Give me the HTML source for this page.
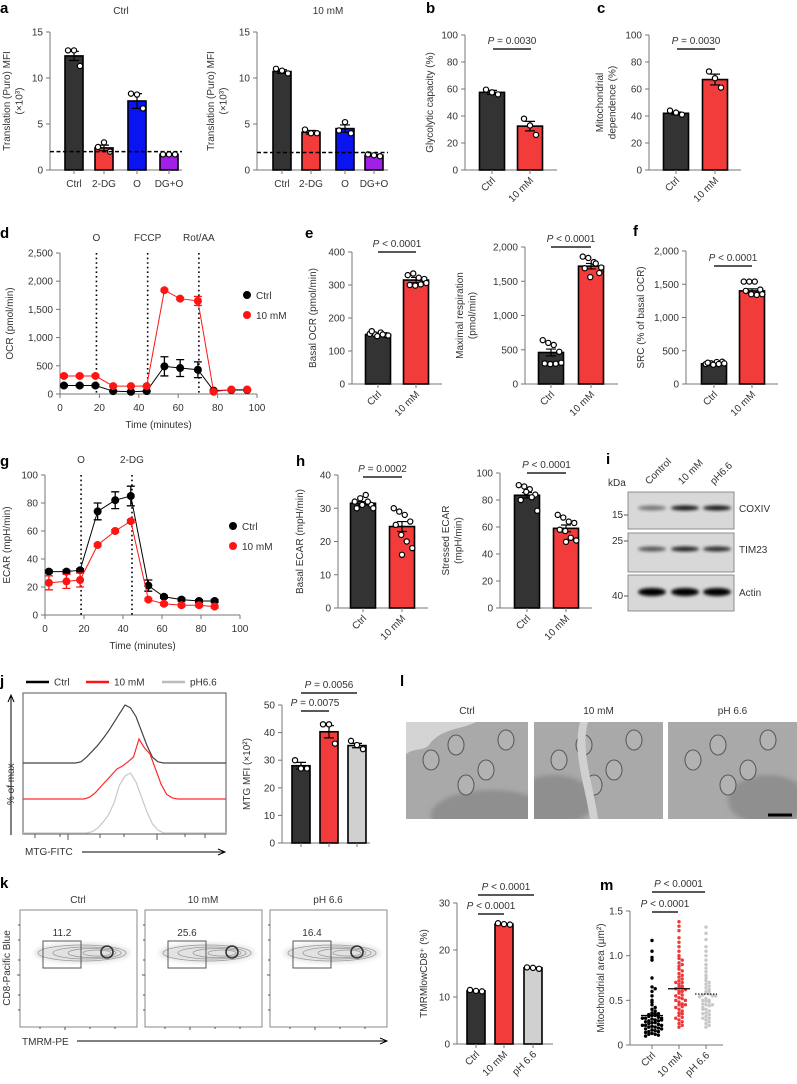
<!DOCTYPE html>
<html><head><meta charset="utf-8">
<style>
html,body{margin:0;padding:0;background:#fff;}
svg{display:block;font-family:"Liberation Sans",sans-serif;}
text{fill:#333;font-size:10px;}
.pl{font-weight:bold;font-size:15px;fill:#000;}
</style></head>
<body>
<svg id="fig" width="797" height="1084" viewBox="0 0 797 1084" xmlns="http://www.w3.org/2000/svg">
<defs>
<filter id="blur1" x="-20%" y="-50%" width="140%" height="200%"><feGaussianBlur stdDeviation="1.6"/></filter>
<filter id="blur2"><feGaussianBlur stdDeviation="2.5"/></filter>
<clipPath id="clip0"><rect x="406" y="722" width="122" height="97"/></clipPath>
<clipPath id="clip1"><rect x="534" y="722" width="129" height="97"/></clipPath>
<clipPath id="clip2"><rect x="668" y="722" width="129" height="97"/></clipPath>
</defs>
<text class="pl" x="0" y="13">a</text>
<text class="pl" x="426" y="13">b</text>
<text class="pl" x="597" y="13">c</text>
<text class="pl" x="0" y="238">d</text>
<text class="pl" x="305" y="238">e</text>
<text class="pl" x="633" y="236">f</text>
<text class="pl" x="0" y="466">g</text>
<text class="pl" x="296" y="466">h</text>
<text class="pl" x="606" y="464">i</text>
<text class="pl" x="0" y="686">j</text>
<text class="pl" x="400" y="686">l</text>
<text class="pl" x="0" y="888">k</text>
<text class="pl" x="600" y="890">m</text>
</svg>
<script>
// ---------- data ----------
const aCats = ['Ctrl','2-DG','O','DG+O'];
const a1Vals = [12.4, 2.4, 7.5, 1.7];
const a1Errs = [0.5, 0.3, 0.8, 0.1];
const a1Pts = [[13,13,11.3],[2.5,3,2],[8.3,8.2,6.7],[1.7,1.7,1.7]];
const a2Vals = [10.7, 4.1, 4.5, 1.6];
const a2Errs = [0.2, 0.2, 0.4, 0.1];
const a2Pts = [[11,10.8,10.5],[4.4,4,4],[4.3,5.2,4],[1.7,1.6,1.5]];
const aTicks = [0,5,10,15];
const aColors = ['#333333','#f23c3c','#0a14f0','#a020e8'];
const twoCats = ['Ctrl','10 mM'];
const threeCats = ['Ctrl','10 mM','pH 6.6'];
const bVals = [57.5, 32.5]; const bErrs=[1.5,3.5]; const bPts=[[59.5,57.5,56],[38,33,26]];
const cVals = [42, 67]; const cErrs=[1,4]; const cPts=[[44,42.5,41],[73,68,61]];
const pctTicks=[0,20,40,60,80,100];
const dTimes=[2,10,18,27,36,44,53,61,70,78,87,95];
const dCtrl=[150,150,150,50,40,50,490,460,430,60,70,70];
const dCtrlErr=[20,20,20,10,10,10,170,150,140,10,10,10];
const d10=[320,320,320,140,140,140,1840,1690,1650,40,80,80];
const d10Err=[20,20,20,10,10,10,20,20,80,10,10,10];
const dTicks=[0,500,1000,1500,2000,2500];
const eBVals=[150,315]; const eBErrs=[4,8];
const eBPts=[[152,150,156,148,160,145,150,147],[330,335,322,318,300,298,302,306]];
const eMVals=[460,1720]; const eMErrs=[50,40];
const eMPts=[[640,600,570,470,300,290,295,310],[1860,1840,1780,1620,1690,1560,1760,1700]];
const fVals=[305,1400]; const fErrs=[10,30];
const fPts=[[300,310,330,335,320,290,300,310],[1540,1540,1540,1420,1400,1350,1340,1350]];
const gTimes=[2,11,18,27,36,44,53,61,70,79,87];
const gCtrl=[31,31,32,74,82,85,21,13,11,10,10];
const gCtrlErr=[1,1,1,6,6,7,4,1,1,1,1];
const g10=[23,24,25,50,60,67,11,8,7,7,6];
const g10Err=[5,5,5,1,1,1,1,1,1,1,1];
const gTicks=[0,20,40,60,80,100];
const hBVals=[31.5,24.5]; const hBErrs=[0.5,1.5];
const hBPts=[[32,33,34,31,30,31,32,30],[30,29,28,26,25,22,20,18,16]];
const hSVals=[83.5,59]; const hSErrs=[2,2.5];
const hSPts=[[91,90,88,84,80,86,82,72],[69,67,64,63,58,57,52,50,49]];
const jVals=[28,40.3,35.3]; const jErrs=[1.2,2.2,0.8]; const jPts=[[30,27,27],[43,43,36],[37,35.5,34]];
const jTicks=[0,10,20,30,40,50];
const histCtrl=[0,0,0.02,0.1,0.2,0.3,0.42,0.55,0.7,0.85,1.0,0.95,0.8,0.55,0.3,0.1,0.02,0,0,0,0];
const hist10=[0,0,0,0.03,0.1,0.2,0.3,0.4,0.5,0.55,0.62,0.7,1.0,0.85,0.75,0.5,0.25,0.08,0.02,0,0];
const histPH=[0,0,0,0,0.02,0.08,0.18,0.3,0.5,0.8,0.95,1.0,0.85,0.6,0.35,0.15,0.05,0,0,0,0];
const kGates=['11.2','25.6','16.4'];
const kVals=[11.3,25.5,16.2]; const kErrs=[0.1,0.1,0.1]; const kPts=[[11.5,11.3,11.2],[25.7,25.5,25.4],[16.3,16.2,16]];
const kTicks=[0,10,20,30];
const mCtrl=[1.17,1.05,0.98,0.95,0.75,0.65,0.63,0.6,0.55,0.5,0.48,0.45,0.42,0.4,0.38,0.36,0.35,0.34,0.33,0.33,0.32,0.31,0.3,0.3,0.29,0.28,0.27,0.27,0.26,0.25,0.25,0.24,0.23,0.22,0.22,0.21,0.2,0.2,0.19,0.18,0.18,0.17,0.16,0.15,0.15,0.14,0.13,0.12,0.12,0.11,0.1,0.35,0.28,0.22,0.3];
const m10=[1.38,1.33,1.28,1.2,1.15,1.1,1.05,1.0,0.97,0.95,0.92,0.9,0.88,0.85,0.83,0.8,0.78,0.76,0.74,0.72,0.7,0.68,0.66,0.65,0.64,0.63,0.62,0.6,0.58,0.56,0.55,0.53,0.52,0.5,0.48,0.46,0.45,0.43,0.42,0.4,0.38,0.36,0.35,0.33,0.31,0.3,0.28,0.26,0.24,0.22,0.2,0.7,0.6,0.5,0.45];
const mPH=[1.32,1.25,1.18,1.1,1.05,1.0,0.95,0.9,0.86,0.82,0.78,0.75,0.72,0.7,0.68,0.66,0.64,0.62,0.6,0.58,0.57,0.56,0.55,0.54,0.52,0.5,0.49,0.48,0.46,0.45,0.44,0.42,0.4,0.38,0.36,0.34,0.32,0.3,0.28,0.26,0.24,0.22,0.2,0.55,0.5,0.45,0.6,0.4,0.35,0.3];
const mMedians=[0.33,0.63,0.57];
const mTicks=[0,0.5,1.0,1.5];
const mTickLabels=['0','0.5','1.0','1.5'];

// ---------- helpers ----------
const NS='http://www.w3.org/2000/svg';
const fig=document.getElementById('fig');
function mk(tag,attrs,parent){const e=document.createElementNS(NS,tag);for(const k in attrs)e.setAttribute(k,attrs[k]);(parent||fig).appendChild(e);return e;}
function txt(s,x,y,attrs,parent){const t=mk('text',Object.assign({x:x,y:y},attrs||{}),parent);t.textContent=s;return t;}
function fmt(v){return v>=1000? Math.floor(v/1000)+','+String(v%1000).padStart(3,'0') : String(v);}

function yLabel(lines,x,cy,parent){
  lines.forEach((s,i)=>{
    const t=txt(s,x+i*12.5,cy,{transform:`rotate(-90 ${x+i*12.5} ${cy})`,'text-anchor':'middle','font-size':'10.5'},parent);
    
    
  });
}
function pBar(label,x1,x2,y,parent){
  const l=mk('line',{x1:x1,x2:x2,y1:y,y2:y,stroke:'#222','stroke-width':1.5},parent);
  
  
  const t=txt('',(x1+x2)/2,y-5,{'text-anchor':'middle','font-size':'9.5'},parent);
  
  
  const i=mk('tspan',{'font-style':'italic'},t); i.textContent='P';
  const r=mk('tspan',{},t); r.textContent=label;
}

function barChart(o){
  const g=mk('g',{});
  
  
  const ys=v=>o.y0-(v/o.max)*(o.y0-o.yTop);
  const ax=mk('line',{x1:o.ax,x2:o.ax,y1:o.y0,y2:o.yTop,stroke:'#777','stroke-width':1},g);
  
  
  const xa=mk('line',{x1:o.ax,x2:o.xEnd,y1:o.y0,y2:o.y0,stroke:'#777','stroke-width':1},g);
  
  
  o.ticks.forEach((v,i)=>{
    const tk=mk('line',{x1:o.ax-4,x2:o.ax,y1:ys(v),y2:ys(v),stroke:'#777'},g);
    
    
    const tl=txt(o.tickLabels?o.tickLabels[i]:fmt(v),o.ax-7,ys(v)+3.5,{'text-anchor':'end'},g);
    
    
  });
  o.cats.forEach((c,i)=>{
    const cx=o.centers[i];
    const top=ys(o.vals[i]);
    const b=mk('rect',{x:cx-o.w/2,y:top,width:o.w,height:o.y0-top,fill:o.colors[i],stroke:'#000','stroke-width':1.6},g);
    
    
    const e1=ys(o.vals[i]+o.errs[i]), e2=ys(o.vals[i]-o.errs[i]);
    const eb=mk('path',{d:`M${cx} ${e1}V${e2}M${cx-5} ${e1}H${cx+5}M${cx-5} ${e2}H${cx+5}`,stroke:'#000','stroke-width':1.2,fill:'none'},g);
    
    
    const tk=mk('line',{x1:cx,x2:cx,y1:o.y0,y2:o.y0+4,stroke:'#777'},g);
    
    
    const pts=o.pts[i]; const n=pts.length;
    pts.forEach((v,k)=>{
      let off = n<=3 ? (k-1)*6 : ((k%4)-1.5)*5.5 + (k>=4?2:0);
      if(n>4 && k>=8) off=0;
      const p=mk('circle',{cx:cx+off,cy:ys(v),r:2.6,fill:'#fff',stroke:'#000','stroke-width':1.2},g);
      
      
    });
    if(o.noLabels) return;
    let lab;
    if(o.rot){
      lab=txt(c,cx+4,o.y0+11,{'text-anchor':'end',transform:`rotate(-45 ${cx+4} ${o.y0+11})`,'font-size':'10.5'},g);
    } else {
      lab=txt(c,cx,o.y0+17,{'text-anchor':'middle','font-size':'10.5'},g);
    }
    
    
  });
  if(o.ylab) yLabel(o.ylab,o.ylx,(o.y0+o.yTop)/2,g);
  return {g:g,ys:ys};
}

// ---------- panel a ----------
const aL=barChart({name:'panel-a-ctrl-chart',ax:50,y0:170,yTop:32,max:15,ticks:aTicks,cats:aCats,centers:[74,104,137,169],w:18,vals:a1Vals,errs:a1Errs,pts:a1Pts,colors:aColors,xEnd:182,ylab:['Translation (Puro) MFI','(×10³)'],ylx:10});
const dl1=mk('line',{x1:50,x2:182,y1:aL.ys(2),y2:aL.ys(2),stroke:'#000','stroke-width':1.5,'stroke-dasharray':'4,2.5'});


const aR=barChart({name:'panel-a-10mm-chart',ax:257,y0:170,yTop:32,max:15,ticks:aTicks,cats:aCats,centers:[282,311,345,374],w:18,vals:a2Vals,errs:a2Errs,pts:a2Pts,colors:aColors,xEnd:388,ylab:['Translation (Puro) MFI','(×10³)'],ylx:214});
const dl2=mk('line',{x1:257,x2:388,y1:aR.ys(1.9),y2:aR.ys(1.9),stroke:'#000','stroke-width':1.5,'stroke-dasharray':'4,2.5'});


let t;
t=txt('Ctrl',121,14,{'text-anchor':'middle','font-size':'11'});  
t=txt('10 mM',328,14,{'text-anchor':'middle','font-size':'11'});  

// ---------- b, c ----------
barChart({name:'panel-b-chart',ax:465,y0:170,yTop:35,max:100,ticks:pctTicks,cats:twoCats,centers:[492,530],w:25,vals:bVals,errs:bErrs,pts:bPts,colors:['#333333','#f23c3c'],xEnd:557,rot:true,ylab:['Glycolytic capacity (%)'],ylx:433});
pBar(' = 0.0030',493,531,49);
barChart({name:'panel-c-chart',ax:649,y0:170,yTop:35,max:100,ticks:pctTicks,cats:twoCats,centers:[676,715],w:25,vals:cVals,errs:cErrs,pts:cPts,colors:['#333333','#f23c3c'],xEnd:741,rot:true,ylab:['Mitochondrial','dependence (%)'],ylx:603});
pBar(' = 0.0030',677,715,49);

// ---------- line chart helper ----------
function lineChart(o){
  const g=mk('g',{});
  
  
  const xs=v=>o.x0+(v/100)*(o.x1-o.x0);
  const ys=v=>o.y0-(v/o.max)*(o.y0-o.yTop);
  let a=mk('line',{x1:o.x0,x2:o.x0,y1:o.y0,y2:o.yTop,stroke:'#777'},g);
  
  
  a=mk('line',{x1:o.x0,x2:o.x1,y1:o.y0,y2:o.y0,stroke:'#777'},g);
  
  
  o.yticks.forEach(v=>{
    const tk=mk('line',{x1:o.x0-4,x2:o.x0,y1:ys(v),y2:ys(v),stroke:'#777'},g);
    
    
    const tl=txt(fmt(v),o.x0-7,ys(v)+3.5,{'text-anchor':'end','font-size':'10.5'},g);
    
    
  });
  [0,20,40,60,80,100].forEach(v=>{
    const tk=mk('line',{x1:xs(v),x2:xs(v),y1:o.y0,y2:o.y0+4,stroke:'#777'},g);
    
    
    const tl=txt(String(v),xs(v),o.y0+17,{'text-anchor':'middle','font-size':'10.5'},g);
    
    
  });
  const xt=txt('Time (minutes)',(o.x0+o.x1)/2,o.y0+34,{'text-anchor':'middle','font-size':'11'},g);
  
  
  o.inj.forEach((tv,i)=>{
    const l=mk('line',{x1:xs(tv),x2:xs(tv),y1:o.yTop,y2:o.y0,stroke:'#000','stroke-width':1.6,'stroke-dasharray':'1.6,3'},g);
    
    
    const lt=txt(o.injLabels[i],xs(tv),o.yTop-12,{'text-anchor':'middle','font-size':'11'},g);
    
    
  });
  o.series.forEach(s=>{
    const d=o.times.map((tv,i)=>(i?'L':'M')+xs(tv)+' '+ys(s.vals[i])).join('');
    const p=mk('path',{d:d,fill:'none',stroke:s.color,'stroke-width':1},g);
    
    
    o.times.forEach((tv,i)=>{
      const x=xs(tv),e1=ys(s.vals[i]+s.errs[i]),e2=ys(s.vals[i]-s.errs[i]);
      const eb=mk('path',{d:`M${x} ${e1}V${e2}M${x-4} ${e1}H${x+4}M${x-4} ${e2}H${x+4}`,stroke:s.color,'stroke-width':1.3,fill:'none'},g);
      
      
      const c=mk('circle',{cx:x,cy:ys(s.vals[i]),r:4,fill:s.color},g);
      
      
    });
  });
  o.series.forEach((s,i)=>{
    const ly=o.legY+i*20;
    const c=mk('circle',{cx:o.legX,cy:ly,r:4,fill:s.color},g);
    
    
    const lt=txt(s.label,o.legX+9,ly+4,{'font-size':'11'},g);
    
    
  });
  yLabel([o.ylab],o.ylx,(o.y0+o.yTop)/2,g);
}
lineChart({name:'panel-d-ocr-chart',x0:60,x1:257,y0:394,yTop:253,max:2500,yticks:dTicks,times:dTimes,inj:[18.5,44.5,70.5],injLabels:['O','FCCP','Rot/AA'],
  series:[{key:'ctrl',label:'Ctrl',color:'#000',vals:dCtrl,errs:dCtrlErr},{key:'10mm',label:'10 mM',color:'#ff1414',vals:d10,errs:d10Err}],
  legX:247,legY:295,ylab:'OCR (pmol/min)',ylx:13});
lineChart({name:'panel-g-ecar-chart',x0:45,x1:240,y0:615,yTop:475,max:100,yticks:gTicks,times:gTimes,inj:[18.5,44.6],injLabels:['O','2-DG'],
  series:[{key:'ctrl',label:'Ctrl',color:'#000',vals:gCtrl,errs:gCtrlErr},{key:'10mm',label:'10 mM',color:'#ff1414',vals:g10,errs:g10Err}],
  legX:233,legY:526,ylab:'ECAR (mpH/min)',ylx:10});

// ---------- e, f, h ----------
const RB=['#333333','#f23c3c'];
barChart({name:'panel-e-basal-ocr',ax:352,y0:384,yTop:252,max:400,ticks:[0,100,200,300,400],cats:twoCats,centers:[378,416],w:25,vals:eBVals,errs:eBErrs,pts:eBPts,colors:RB,xEnd:442,rot:true,ylab:['Basal OCR (pmol/min)'],ylx:316});
pBar(' < 0.0001',378,416,252);
barChart({name:'panel-e-maximal-respiration',ax:525,y0:384,yTop:247,max:2000,ticks:[0,500,1000,1500,2000],cats:twoCats,centers:[551,591],w:25,vals:eMVals,errs:eMErrs,pts:eMPts,colors:RB,xEnd:618,rot:true,ylab:['Maximal respiration','(pmol/min)'],ylx:463});
pBar(' < 0.0001',551,591,247);
barChart({name:'panel-f-src',ax:686,y0:384,yTop:251,max:2000,ticks:[0,500,1000,1500,2000],cats:twoCats,centers:[714,752],w:25,vals:fVals,errs:fErrs,pts:fPts,colors:RB,xEnd:778,rot:true,ylab:['SRC (% of basal OCR)'],ylx:644});
pBar(' < 0.0001',714,752,266);
barChart({name:'panel-h-basal-ecar',ax:338,y0:608,yTop:475,max:40,ticks:[0,10,20,30,40],cats:twoCats,centers:[363,402],w:25,vals:hBVals,errs:hBErrs,pts:hBPts,colors:RB,xEnd:428,rot:true,ylab:['Basal ECAR (mpH/min)'],ylx:303});
pBar(' = 0.0002',363,402,477);
barChart({name:'panel-h-stressed-ecar',ax:500,y0:608,yTop:473,max:100,ticks:[0,20,40,60,80,100],cats:twoCats,centers:[527,566],w:25,vals:hSVals,errs:hSErrs,pts:hSPts,colors:RB,xEnd:592,rot:true,ylab:['Stressed ECAR','(mpH/min)'],ylx:449});
pBar(' < 0.0001',527,566,473);

// ---------- panel i: western blot ----------
(function(){
  const g=mk('g',{});
  
  
  const lanes=['Control','10 mM','pH6.6']; const lx=[655,688,720];
  lanes.forEach((s,i)=>{
    const tt=txt(s,lx[i]-6,485,{transform:`rotate(-45 ${lx[i]-6} 485)`,'font-size':'9'},g);
    
    
  });
  t=txt('kDa',608,486,{'font-size':'10'},g);  
  const boxes=[[492,529,'COXIV',510,[0.45,0.9,0.9],5],[533,572,'TIM23',551,[0.6,0.85,0.8],5],[575,611,'Actin',594,[1,1,1],8]];
  boxes.forEach(b=>{
    const r=mk('rect',{x:628,y:b[0],width:106,height:b[1]-b[0],fill:'#d8d8d8',stroke:'#777','stroke-width':0.8},g);
    
    
    b[4].forEach((dk,i)=>{
      const e=mk('ellipse',{cx:lx[i]-3,cy:b[3]-2,rx:14,ry:b[5]/2,fill:'#000','fill-opacity':dk,filter:'url(#blur1)'},g);
      
      
    });
    const tl=txt(b[2],739,b[3]+2,{'font-size':'10.5'},g);
    
    
  });
  [['15',515],['25',541],['40',596]].forEach(m=>{
    const tl=txt(m[0],612,m[1]+3,{'font-size':'9.5'},g);
    
    
    const l=mk('line',{x1:624,x2:628,y1:m[1],y2:m[1],stroke:'#555'},g);
    
    
  });
})();

// ---------- panel j ----------
(function(){
  const g=mk('g',{});
  
  
  const leg=[['Ctrl','#000',26],['10 mM','#ff1414',86],['pH6.6','#bbb',162]];
  leg.forEach(l=>{
    const ln=mk('line',{x1:l[2],x2:l[2]+23,y1:682,y2:682,stroke:l[1],'stroke-width':2.5},g);
    
    
    const tl=txt(l[0],l[2]+28,685.5,{'font-size':'10'},g);
    
    
  });
  const box=mk('rect',{x:23,y:693,width:203,height:141,fill:'none',stroke:'#555','stroke-width':1},g);
  
  
  const hs=[[histCtrl,'#444',763,58,'ctrl',0],[hist10,'#ff2a2a',799,60,'10mm',3],[histPH,'#c8c8c8',833,60,'ph66',0]];
  hs.forEach(h=>{
    let d=`M23 ${h[2]}`;
    h[0].forEach((v,i)=>{d+=`L${70+h[5]+i*5.5} ${h[2]-v*h[3]}`;});
    d+=`L226 ${h[2]}`;
    const p=mk('path',{d:d,fill:'none',stroke:h[1],'stroke-width':1.2},g);
    
    
  });
  let ar=mk('path',{d:'M11 835V696M8 702L11 695L14 702',stroke:'#000',fill:'none','stroke-width':1},g);
  
  
  t=txt('% of max',14,805,{transform:'rotate(-90 14 805)','font-size':'10.5'},g);  
  t=txt('MTG-FITC',25,855,{'font-size':'10.5'},g);  
  ar=mk('path',{d:'M82 852H224M218 849L225 852L218 855',stroke:'#000',fill:'none','stroke-width':1},g);
  
  
  const tk=mk('path',{d:'M35 834v4M60 834v3M68 834v6M100 834v4M124 834v3M157 834v6M185 834v3M205 834v4',stroke:'#555'},g);
  
  
})();
barChart({name:'panel-j-mtg-bars',ax:282,y0:843,yTop:705,max:50,ticks:jTicks,cats:['Ctrl','10 mM','pH6.6'],centers:[301,329,357],w:18,vals:jVals,errs:jErrs,pts:jPts,colors:['#333333','#f23c3c','#d0d0d0'],xEnd:370,noLabels:true,ylab:['MTG MFI (×10²)'],ylx:250});
pBar(' = 0.0075',301,329,711);
pBar(' = 0.0056',301,357,693);

// ---------- panel l: EM ----------
(function(){
  const g=mk('g',{});
  
  
  const ims=[[406,528,'Ctrl'],[534,663,'10 mM'],[668,797,'pH 6.6']];
  ims.forEach((im,i)=>{
    const sub=mk('g',{'clip-path':`url(#clip${i})`},g);
    
    
    const r=mk('rect',{x:im[0],y:722,width:im[1]-im[0],height:97,fill:'#a9a9a9'},sub);
    
    
    const dk=mk('ellipse',{cx:im[0]+(i===1?20:i===0?85:100),cy:i===0?815:800,rx:i===0?60:40,ry:25,fill:'#8f8f8f',filter:'url(#blur2)'},sub);
    
    
    [[25,760],[50,745],[80,770],[100,740],[60,785]].forEach(p=>{
      const m=mk('ellipse',{cx:im[0]+p[0],cy:p[1],rx:8,ry:10,fill:'#b2b2b2',stroke:'#555','stroke-width':1},sub);
      
      
    });
    if(i===0){
      const bg=mk('path',{d:'M406 722h70c-15 8-30 5-45 20c-5 10-15 5-25 12z',fill:'#d4d4d4'},sub);
      
      
    }
    if(i===1){
      const gap=mk('path',{d:'M580 722l8 0c-8 30 5 60 10 97l-8 0c-5-35-18-65-10-97z',fill:'#d0d0d0'},sub);
      
      
    }
    const tl=txt(im[2],(im[0]+im[1])/2,714,{'text-anchor':'middle','font-size':'10.5'},g);
    
    
  });
  const sb=mk('line',{x1:768,x2:792,y1:815,y2:815,stroke:'#000','stroke-width':3},g);
  
  
})();

// ---------- panel k flow ----------
(function(){
  const g=mk('g',{});
  
  
  const xs=[20,145,270]; const titles=['Ctrl','10 mM','pH 6.6'];
  xs.forEach((x,i)=>{
    const r=mk('rect',{x:x,y:910,width:117,height:117,fill:'#fff',stroke:'#888','stroke-width':1},g);
    
    
    const cl=mk('ellipse',{cx:x+62,cy:953,rx:48,ry:10,fill:'#e2e2e2',filter:'url(#blur2)'},g);
    
    
    [[44,8],[34,6],[24,4.5],[14,3]].forEach((e,k)=>{
      const el=mk('ellipse',{cx:x+62+k*5,cy:953,rx:e[0],ry:e[1],fill:'none',stroke:'#999','stroke-width':0.8},g);
      
      
    });
    const hot=mk('circle',{cx:x+87,cy:952,r:6,fill:'none',stroke:'#333','stroke-width':1.6},g);
    
    
    const gt=mk('rect',{x:x+23,y:941,width:38,height:27,fill:'none',stroke:'#555','stroke-width':1},g);
    
    
    const gl=txt(kGates[i],x+42,936,{'text-anchor':'middle','font-size':'10.5'},g);
    
    
    const tl=txt(titles[i],x+58,903,{'text-anchor':'middle','font-size':'10.5'},g);
    
    
    const tk=mk('path',{d:`M${x} 925h-2M${x} 940h-2M${x} 960h-2M${x} 975h-3M${x} 995h-2M${x} 1010h-2M${x+20} 1027v2M${x+45} 1027v3M${x+70} 1027v2M${x+95} 1027v2`,stroke:'#555'},g);
    
    
  });
  t=txt('CD8-Pacific Blue',10,968,{transform:'rotate(-90 10 968)','text-anchor':'middle','font-size':'10.5'},g);  
  t=txt('TMRM-PE',22,1045,{'font-size':'10.5'},g);  
  const ar=mk('path',{d:'M77 1041H386M380 1038L387 1041L380 1044',stroke:'#000',fill:'none'},g);
  
  
})();
barChart({name:'panel-k-tmrm-bars',ax:457,y0:1044,yTop:903,max:30,ticks:kTicks,cats:threeCats,centers:[476,504,533],w:18,vals:kVals,errs:kErrs,pts:kPts,colors:['#333333','#f23c3c','#d0d0d0'],xEnd:553,rot:true,ylab:['TMRMlowCD8⁺ (%)'],ylx:427});
pBar(' < 0.0001',478,504,914);
pBar(' < 0.0001',478,534,895);

// ---------- panel m scatter ----------
(function(){
  const g=mk('g',{});
  
  
  const ax=630,y0=1045,yTop=911,max=1.5;
  const ys=v=>y0-(v/max)*(y0-yTop);
  let a=mk('line',{x1:ax,x2:ax,y1:y0,y2:yTop,stroke:'#777'},g);
  
  
  a=mk('line',{x1:ax,x2:723,y1:y0,y2:y0,stroke:'#777'},g);
  
  
  mTicks.forEach((v,i)=>{
    const tk=mk('line',{x1:ax-4,x2:ax,y1:ys(v),y2:ys(v),stroke:'#777'},g);
    
    
    const tl=txt(mTickLabels[i],ax-7,ys(v)+3.5,{'text-anchor':'end','font-size':'10.5'},g);
    
    
  });
  const groups=[mCtrl,m10,mPH]; const cols=['#000','#f03838','#c8c8c8']; const cx=[652,679,706];
  groups.forEach((arr,gi)=>{
    const bins={};
    arr.forEach(v=>{
      const b=Math.round(v/0.04); bins[b]=(bins[b]||0)+1; const k=bins[b]-1;
      let off=(k%2?1:-1)*Math.ceil(k/2)*3.2; if(Math.abs(off)>12) off=off%12;
      const p=mk('circle',{cx:cx[gi]+off,cy:ys(v),r:1.7,fill:cols[gi]},g);
      
      
    });
    const md=mk('line',{x1:cx[gi]-11,x2:cx[gi]+11,y1:ys(mMedians[gi]),y2:ys(mMedians[gi]),stroke:'#000','stroke-width':1.2,'stroke-dasharray':gi===2?'1.5,1.5':'none'},g);
    
    
    const tk=mk('line',{x1:cx[gi],x2:cx[gi],y1:y0,y2:y0+4,stroke:'#777'},g);
    
    
    const lab=txt(threeCats[gi],cx[gi]+4,y0+11,{'text-anchor':'end',transform:`rotate(-45 ${cx[gi]+4} ${y0+11})`,'font-size':'10.5'},g);
    
    
  });
  yLabel(['Mitochondrial area (µm²)'],604,978,g);
  pBar(' < 0.0001',652,678,912);
  pBar(' < 0.0001',652,705,892);
})();
</script>
</body></html>
